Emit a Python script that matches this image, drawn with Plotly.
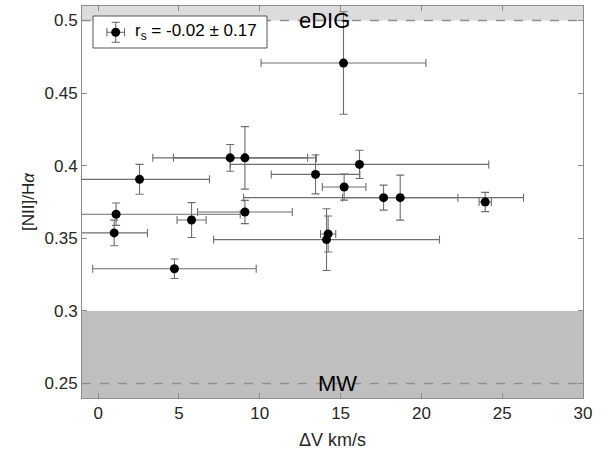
import plotly.graph_objects as go

# Data
dv = [15.18, 2.56, 8.17, 9.08, 16.17, 13.45, 15.22, 17.66, 18.69, 23.95,
      1.11, 5.78, 9.08, 0.99, 4.72, 14.13, 14.23]
ratio = [0.4707, 0.3906, 0.4054, 0.4054, 0.4009, 0.3940, 0.3853, 0.3780, 0.3780, 0.3750,
         0.3666, 0.3626, 0.3681, 0.3537, 0.3290, 0.3491, 0.3530]
dv_err = [5.10, 4.33, 4.79, 4.42, 8.00, 2.74, 1.35, 8.66, 3.57, 0.38,
          7.68, 0.90, 2.93, 2.06, 5.06, 6.99, 0.47]
ratio_err = [0.0353, 0.0103, 0.0092, 0.0215, 0.0097, 0.0134, 0.0090, 0.0086, 0.0155, 0.0066,
             0.0077, 0.0120, 0.0080, 0.0088, 0.0067, 0.0213, 0.0124]

legend_label = "r<sub>s</sub> = -0.02 ± 0.17"

# Reference levels
edig_level = 0.5
mw_level = 0.25
mw_band_top = 0.3

x_range = [-1, 30]
y_range = [0.24, 0.51]
x_ticks = [0, 5, 10, 15, 20, 25, 30]
y_ticks = [0.25, 0.3, 0.35, 0.4, 0.45, 0.5]
y_tick_text = ["0.25", "0.3", "0.35", "0.4", "0.45", "0.5"]

FONT = "Liberation Sans, Arial, Helvetica, sans-serif"
AX = "#8c8c8c"
TXT = "#262626"
ERR = "#6e6e6e"

W, H = 607, 455
ML, MR, MT, MB = 82, 24, 6, 57
PW, PH = W - ML - MR, H - MT - MB


def px(x):
    return (x - ML) / PW


def py(y):
    return (H - MB - y) / PH


fig = go.Figure()

fig.add_trace(go.Scatter(
    x=dv, y=ratio, mode="markers", name=legend_label,
    marker=dict(color="black", size=9),
    error_x=dict(type="data", array=dv_err, color=ERR, thickness=1.1, width=4),
    error_y=dict(type="data", array=ratio_err, color=ERR, thickness=1.1, width=4),
    showlegend=False,
))

shapes = [
    dict(type="rect", xref="paper", yref="y", x0=0, x1=1, y0=y_range[0], y1=mw_band_top,
         fillcolor="#bfbfbf", line=dict(width=0), layer="below"),
    dict(type="rect", xref="paper", yref="y", x0=0, x1=1, y0=edig_level, y1=y_range[1],
         fillcolor="#dcdcdc", line=dict(width=0), layer="below"),
    dict(type="line", xref="paper", yref="y", x0=0, x1=1, y0=edig_level, y1=edig_level,
         line=dict(color="#8f8f8f", width=1.5, dash="dash"), layer="below"),
    dict(type="line", xref="paper", yref="y", x0=0, x1=1, y0=mw_level, y1=mw_level,
         line=dict(color="#8f8f8f", width=1.5, dash="dash"), layer="below"),
]

# Legend box (drawn manually so the symbol can carry error bars)
lx, ly = 115.7, 32.3
legend_shapes = [
    dict(type="rect", x0=px(93), x1=px(267), y0=py(48), y1=py(16),
         fillcolor="white", line=dict(color="#555555", width=1)),
    dict(type="line", x0=px(lx - 8.8), x1=px(lx + 8.8), y0=py(ly), y1=py(ly),
         line=dict(color=ERR, width=1.1)),
    dict(type="line", x0=px(lx - 8.8), x1=px(lx - 8.8), y0=py(ly - 4), y1=py(ly + 4),
         line=dict(color=ERR, width=1.1)),
    dict(type="line", x0=px(lx + 8.8), x1=px(lx + 8.8), y0=py(ly - 4), y1=py(ly + 4),
         line=dict(color=ERR, width=1.1)),
    dict(type="line", x0=px(lx), x1=px(lx), y0=py(ly - 10), y1=py(ly + 10),
         line=dict(color=ERR, width=1.1)),
    dict(type="line", x0=px(lx - 4), x1=px(lx + 4), y0=py(ly - 10), y1=py(ly - 10),
         line=dict(color=ERR, width=1.1)),
    dict(type="line", x0=px(lx - 4), x1=px(lx + 4), y0=py(ly + 10), y1=py(ly + 10),
         line=dict(color=ERR, width=1.1)),
    dict(type="circle", x0=px(lx - 4.5), x1=px(lx + 4.5), y0=py(ly + 4.5), y1=py(ly - 4.5),
         fillcolor="black", line=dict(color="black", width=0)),
]
for s in legend_shapes:
    s.update(xref="paper", yref="paper", layer="above")
shapes += legend_shapes

annotations = [
    dict(x=14.0, y=edig_level, xref="x", yref="y", text="eDIG", showarrow=False,
         font=dict(family=FONT, size=22, color="black"), xanchor="center", yanchor="middle"),
    dict(x=14.8, y=mw_level, xref="x", yref="y", text="MW", showarrow=False,
         font=dict(family=FONT, size=22, color="black"), xanchor="center", yanchor="middle"),
    dict(x=px(133), y=py(ly), xref="paper", yref="paper", text=legend_label, showarrow=False,
         font=dict(family=FONT, size=17, color="black"), xanchor="left", yanchor="middle"),
]

fig.update_layout(
    width=W, height=H,
    margin=dict(l=ML, r=MR, t=MT, b=MB),
    paper_bgcolor="white", plot_bgcolor="white",
    font=dict(family=FONT, size=17, color=TXT),
    shapes=shapes, annotations=annotations,
    showlegend=False,
    xaxis=dict(range=x_range, tickvals=x_ticks, showgrid=False, zeroline=False,
               showline=True, linecolor=AX, linewidth=1, mirror="ticks",
               ticks="inside", ticklen=5, tickcolor=AX,
               title=dict(text="ΔV km/s", font=dict(size=18, color=TXT), standoff=10)),
    yaxis=dict(range=y_range, tickvals=y_ticks, ticktext=y_tick_text, showgrid=False,
               zeroline=False, showline=True, linecolor=AX, linewidth=1, mirror="ticks",
               ticks="inside", ticklen=5, tickcolor=AX,
               title=dict(text="[NII]/H<i>α</i>", font=dict(size=17, color=TXT), standoff=5)),
)

fig.write_html("out.html", config={"displayModeBar": False},
               post_script="document.body.style.margin='0';")
